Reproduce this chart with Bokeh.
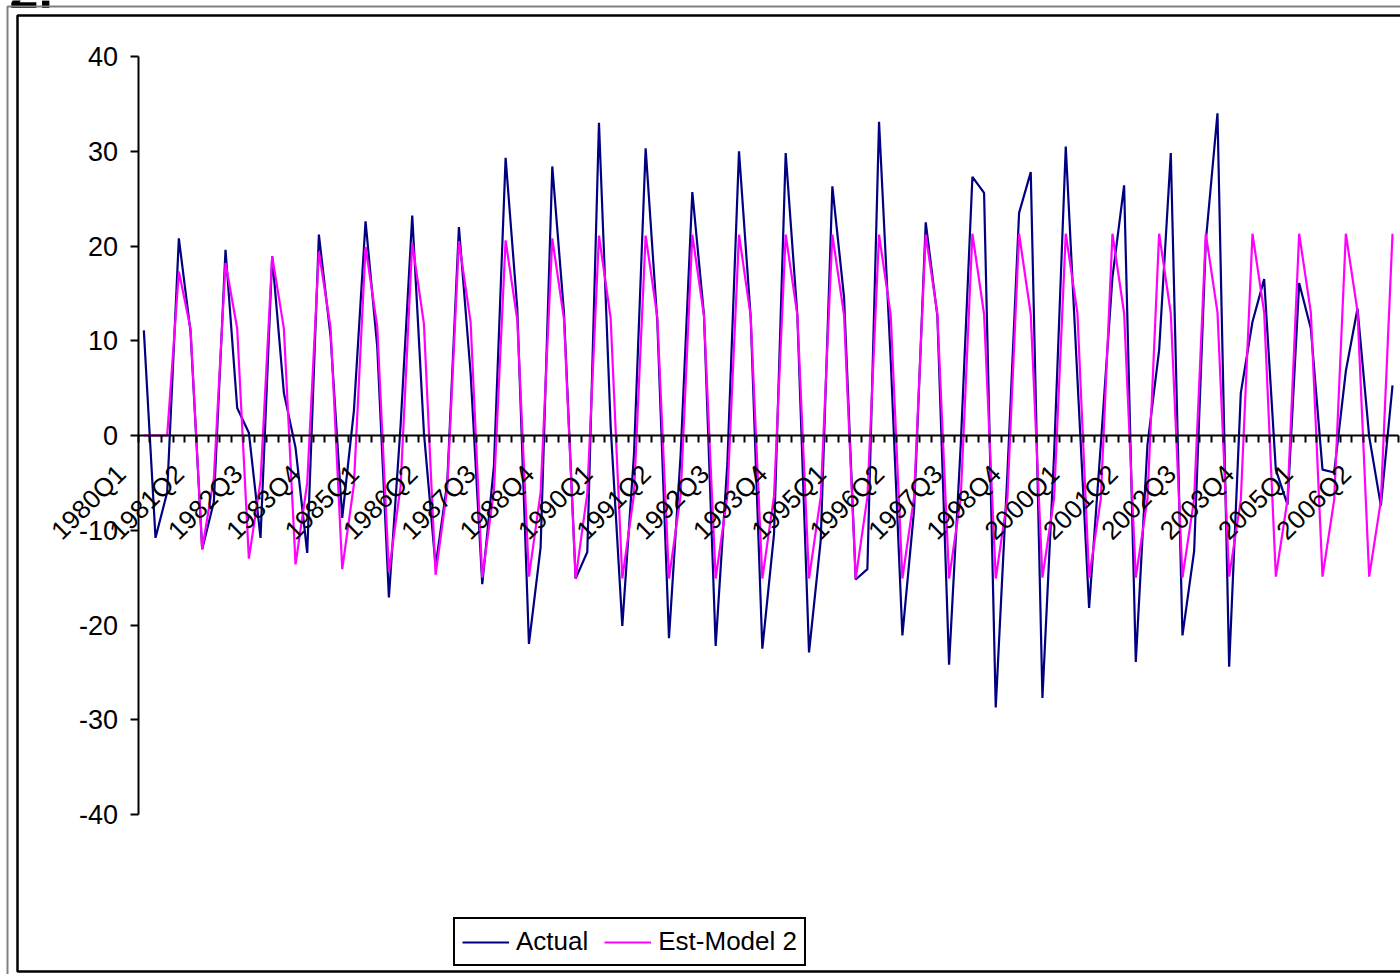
import math
from bokeh.plotting import figure
from bokeh.models import (LinearAxis, FixedTicker, Range1d, Legend, LegendItem,
                          BoxAnnotation, ColumnDataSource, Label)
from bokeh.embed import file_html
from bokeh.resources import INLINE

# ---------------- data ----------------
years = list(range(1980, 2007))
quarters = [f"{y}Q{q}" for y in years for q in (1, 2, 3, 4)]

tick_labels = ["1980Q1", "1981Q2", "1982Q3", "1983Q4", "1985Q1", "1986Q2",
               "1987Q3", "1988Q4", "1990Q1", "1991Q2", "1992Q3", "1993Q4",
               "1995Q1", "1996Q2", "1997Q3", "1998Q4", "2000Q1", "2001Q2",
               "2002Q3", "2003Q4", "2005Q1", "2006Q2"]

actual = [
    11.1, -10.8, -6.0, 20.8,    # 1980
    11.0, -12.0, -7.0, 19.6,    # 1981
    2.9, 0.3, -10.8, 18.9,      # 1982
    4.5, -1.3, -12.4, 21.2,     # 1983
    10.5, -8.7, 2.6, 22.6,      # 1984
    9.4, -17.1, 1.0, 23.2,      # 1985
    0.3, -13.8, -5.0, 22.0,     # 1986
    6.6, -15.7, -3.2, 29.3,     # 1987
    13.4, -22.0, -11.8, 28.4,   # 1988
    13.0, -15.1, -12.3, 33.0,   # 1989
    1.0, -20.1, -2.0, 30.3,     # 1990
    12.0, -21.4, -2.0, 25.7,    # 1991
    12.7, -22.2, -3.0, 30.0,    # 1992
    12.5, -22.5, -10.4, 29.8,   # 1993
    12.7, -22.9, -11.1, 26.3,   # 1994
    14.6, -15.2, -14.1, 33.1,   # 1995
    8.0, -21.1, -7.9, 22.5,     # 1996
    12.6, -24.2, -1.0, 27.3,    # 1997
    25.6, -28.7, -4.0, 23.5,    # 1998
    27.8, -27.7, -2.0, 30.5,    # 1999
    6.0, -18.2, -1.0, 16.7,     # 2000
    26.4, -23.9, -1.0, 9.0,     # 2001
    29.8, -21.1, -12.2, 20.5,   # 2002
    34.0, -24.4, 4.5, 12.0,     # 2003
    16.5, -3.6, -7.3, 16.1,     # 2004
    11.3, -3.6, -3.9, 6.8,      # 2005
    13.4, -0.1, -7.4, 5.3,      # 2006
]

est_model2 = [
    0.0, 0.0, 0.0, 17.3,        # 1980
    11.3, -12.0, -4.5, 18.2,    # 1981
    11.3, -13.0, -4.8, 18.9,    # 1982
    11.3, -13.6, -5.0, 19.4,    # 1983
    11.4, -14.1, -5.2, 19.9,    # 1984
    11.5, -14.4, -5.4, 20.3,    # 1985
    11.8, -14.7, -5.6, 20.5,    # 1986
    12.0, -15.0, -5.8, 20.6,    # 1987
    12.2, -14.9, -6.0, 20.8,    # 1988
    12.3, -15.1, -6.1, 21.1,    # 1989
    12.4, -15.1, -6.2, 21.1,    # 1990
    12.5, -15.1, -6.3, 21.2,    # 1991
    12.6, -15.1, -6.4, 21.2,    # 1992
    12.6, -15.1, -6.4, 21.2,    # 1993
    12.7, -15.1, -6.5, 21.2,    # 1994
    12.7, -15.1, -6.5, 21.2,    # 1995
    12.7, -15.1, -6.5, 21.2,    # 1996
    12.8, -15.1, -6.6, 21.3,    # 1997
    12.8, -15.1, -6.6, 21.3,    # 1998
    12.8, -15.0, -6.6, 21.3,    # 1999
    12.9, -15.0, -6.7, 21.3,    # 2000
    12.9, -15.0, -6.7, 21.3,    # 2001
    12.9, -15.0, -6.7, 21.3,    # 2002
    13.0, -14.9, -6.8, 21.3,    # 2003
    13.0, -14.9, -6.8, 21.3,    # 2004
    13.0, -14.9, -6.8, 21.3,    # 2005
    13.1, -14.9, -6.9, 21.3,    # 2006
]

y_ticks = [-40, -30, -20, -10, 0, 10, 20, 30, 40]

# ---------------- layout ----------------
W, H = 1400, 974
n = len(quarters)
xs = list(range(n))
FONT = "Liberation Sans"

PX_X = 11.67                 # pixels per quarter
X0_PX = 137.5                # pixel of the left edge of the plot area
PX_Y = 9.475                 # pixels per unit
Y40_PX = 56                  # pixel of the value 40
x_start = -0.5 - X0_PX / PX_X
x_end = x_start + W / PX_X
y_end = 40 + Y40_PX / PX_Y
y_start = y_end - H / PX_Y

p = figure(width=W, height=H, output_backend="svg", toolbar_location=None,
           x_range=Range1d(x_start, x_end), y_range=Range1d(y_start, y_end),
           x_axis_type=None, y_axis_type=None,
           min_border=0, min_border_left=0, min_border_right=0,
           min_border_top=0, min_border_bottom=0,
           background_fill_color="white", border_fill_color="white",
           outline_line_color=None)

# y axis on the left edge of the plot area
yaxis = LinearAxis(fixed_location=-0.5, bounds=(-40, 40),
                   ticker=FixedTicker(ticks=y_ticks, minor_ticks=[]),
                   major_label_overrides={t: str(t) for t in y_ticks},
                   axis_line_color="black", axis_line_width=2,
                   major_tick_out=8, major_tick_in=0, major_tick_line_width=2,
                   major_tick_line_color="black",
                   minor_tick_out=0, minor_tick_in=0,
                   major_label_standoff=12,
                   major_label_text_font=FONT,
                   major_label_text_font_size="27px",
                   major_label_text_color="black")
p.add_layout(yaxis, "left")

# x axis crossing at y = 0; category labels every 5 quarters
LABEL_SHIFT = 1.95
label_pos = [round(quarters.index(l) - LABEL_SHIFT, 3) for l in tick_labels]
xaxis = LinearAxis(fixed_location=0, bounds=(-0.5, n - 0.5),
                   ticker=FixedTicker(ticks=label_pos,
                                      minor_ticks=[i - 0.5 for i in range(n + 1)]),
                   major_label_overrides={pos: lab for pos, lab in zip(label_pos, tick_labels)},
                   major_label_orientation=math.pi / 4,
                   axis_line_color="black", axis_line_width=2,
                   major_tick_out=0, major_tick_in=0,
                   minor_tick_out=7, minor_tick_in=0, minor_tick_line_width=2,
                   minor_tick_line_color="black",
                   major_label_standoff=27,
                   major_label_text_font=FONT,
                   major_label_text_font_size="26px",
                   major_label_text_color="black")
p.add_layout(xaxis, "below")

src = ColumnDataSource(dict(x=xs, actual=actual, est=est_model2))
r1 = p.line("x", "actual", source=src, line_color="#000080", line_width=2.2)
r2 = p.line("x", "est", source=src, line_color="#FF00FF", line_width=2.2)

legend = Legend(items=[LegendItem(label="Actual", renderers=[r1]),
                       LegendItem(label="Est-Model 2", renderers=[r2])],
                orientation="horizontal", location=(453, 8),
                border_line_color="black", border_line_width=2,
                border_line_alpha=1.0,
                background_fill_color="white", background_fill_alpha=1,
                padding=7, spacing=16, margin=0,
                glyph_width=47, glyph_height=20, label_standoff=7,
                label_text_font=FONT, label_text_font_size="26px",
                label_text_color="black")
p.add_layout(legend, "center")

# chart-area borders
for l, t, b, col, w in [(7, 6, 3000, "#808080", 2), (17, 15, 971, "black", 2.5)]:
    p.add_layout(BoxAnnotation(left=l, right=3000, top=t, bottom=b,
                               left_units="canvas", right_units="canvas",
                               top_units="canvas", bottom_units="canvas",
                               fill_color=None, fill_alpha=0,
                               line_color=col, line_alpha=1.0,
                               line_width=w, level="overlay"))

# chart title, cut off by the top of the page as in the original
p.add_layout(Label(x=9, y=H + 10.5, x_units="screen", y_units="screen",
                   text="2.", text_baseline="alphabetic", text_align="left",
                   text_font=FONT, text_font_style="bold",
                   text_font_size="52px", text_color="black"))

open("out.html", "w").write(file_html(p, INLINE))
